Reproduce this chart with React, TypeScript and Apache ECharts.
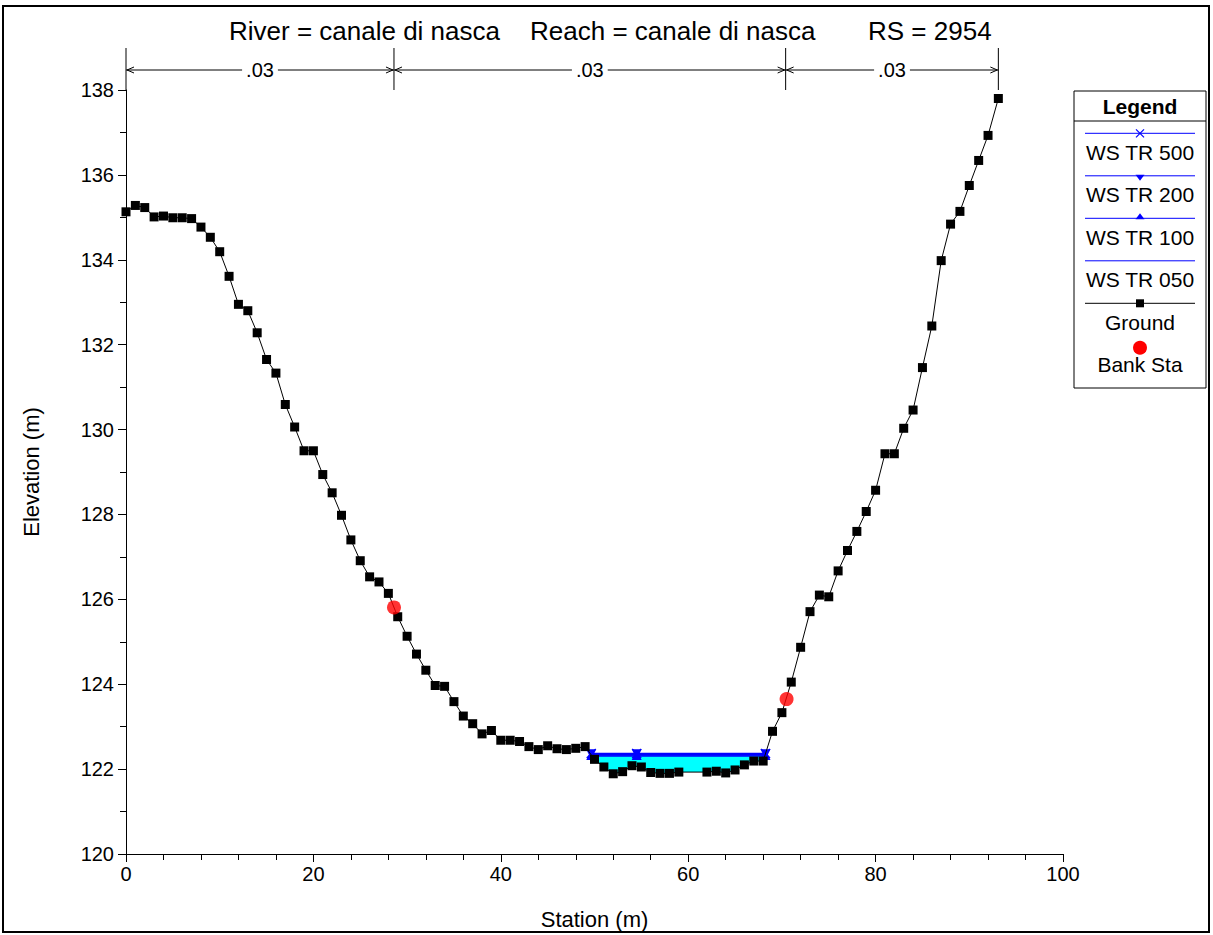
import React, { useEffect, useRef } from "react";
import * as echarts from "echarts";

const stations = [
  0, 1, 2, 3, 4, 5, 6, 7, 8, 9, 10, 11, 12, 13, 14, 15, 16, 17, 18, 19, 20,
  21, 22, 23, 24, 25, 26, 27, 28, 29, 30, 31, 32, 33, 34, 35, 36, 37, 38, 39, 40,
  41, 42, 43, 44, 45, 46, 47, 48, 49, 50, 51, 52, 53, 54, 55, 56, 57, 58, 59,
  62, 63, 64, 65, 66, 67, 68, 69, 70, 71, 72, 73, 74, 75, 76, 77, 78, 79, 80,
  81, 82, 83, 84, 85, 86, 87, 88, 89, 90, 91, 92, 93.1,
];
const elevations = [
  135.13, 135.28, 135.23, 135.01, 135.03, 134.99, 134.99, 134.97, 134.77, 134.53, 134.19,
  133.61, 132.95, 132.8, 132.28, 131.65, 131.33, 130.59, 130.06, 129.5, 129.5,
  128.94, 128.51, 127.98, 127.4, 126.91, 126.53, 126.41, 126.14, 125.59, 125.13,
  124.71, 124.33, 123.97, 123.95, 123.59, 123.25, 123.07, 122.83, 122.91, 122.68,
  122.68, 122.65, 122.53, 122.46, 122.55, 122.48, 122.46, 122.49, 122.53, 122.23,
  122.05, 121.89, 121.94, 122.08, 122.05, 121.92, 121.9, 121.9, 121.93,
  121.93, 121.95, 121.91, 121.98, 122.1, 122.19, 122.19, 122.89, 123.33, 124.05,
  124.87, 125.71, 126.1, 126.06, 126.67, 127.15, 127.6, 128.07, 128.57,
  129.43, 129.43, 130.03, 130.46, 131.46, 132.44, 133.98, 134.84, 135.14, 135.75,
  136.34, 136.93, 137.8,
];
const bankStations = [28.6, 70.5];
const bankElevations = [125.81, 123.65];

const wsStations = [49.65, 54.5, 68.25];
const wsNames = ["WS TR 500", "WS TR 200", "WS TR 100", "WS TR 050"];
const wsLevels = [122.37, 122.35, 122.33, 122.31];

const nStations = [0, 28.6, 70.4, 93.1];
const nValues = [".03", ".03", ".03"];

const titleParts = ["River = canale di nasca", "Reach = canale di nasca", "RS = 2954"];

const xTicks = [0, 20, 40, 60, 80, 100];
const yTicks = [120, 122, 124, 126, 128, 130, 132, 134, 136, 138];

const FONT = "'Liberation Sans', Arial, sans-serif";
const BLUE = "#0000ff";
const X_PATH =
  "path://M0,1 L1,0 L5,4 L9,0 L10,1 L6,5 L10,9 L9,10 L5,6 L1,10 L0,9 L4,5 Z";

export default function App() {
  const ref = useRef<HTMLDivElement>(null);

  useEffect(() => {
    document.body.style.margin = "0";
    if (!ref.current) return;
    const chart = echarts.init(ref.current, null, { renderer: "svg" });

    const ground = stations.map((s, i) => [s, elevations[i]]);

    const topWs = wsLevels[0];
    const wsLeft = wsStations[0];
    const wsRight = wsStations[wsStations.length - 1];
    const waterPts: number[][] = [[wsLeft, topWs]];
    stations.forEach((s, i) => {
      if (s > wsLeft && s < wsRight) waterPts.push([s, elevations[i]]);
    });
    waterPts.push([wsRight, topWs]);

    const wsSymbols = [X_PATH, "triangle", "triangle", "none"];
    const wsRot = [0, 180, 0, 0];

    const wsSeries = wsNames.map((name, k) => ({
      type: "line",
      name,
      data: wsStations.map((s) => [s, wsLevels[k]]),
      symbol: wsSymbols[k],
      symbolRotate: wsRot[k],
      symbolSize: 10,
      showSymbol: wsSymbols[k] !== "none",
      lineStyle: { color: BLUE, width: 1.5 },
      itemStyle: { color: BLUE },
      z: 3,
    }));

    // Legend graphic
    const lgLeft = 1074;
    const lgRight = 1206;
    const lgCx = (lgLeft + lgRight) / 2;
    const lgTop = 91;
    const lgSep = 121;
    const lgStep = 42.5;
    const lgLine0 = 133.3;
    const lgText0 = 152;
    const lgBottom = 388;
    const legendChildren: any[] = [
      {
        type: "rect",
        shape: { x: lgLeft, y: lgTop, width: lgRight - lgLeft, height: lgBottom - lgTop },
        style: { fill: "#fff", stroke: "#000", lineWidth: 1 },
      },
      {
        type: "line",
        shape: { x1: lgLeft, y1: lgSep, x2: lgRight, y2: lgSep },
        style: { stroke: "#000", lineWidth: 1 },
      },
      {
        type: "text",
        style: {
          text: "Legend",
          x: lgCx,
          y: (lgTop + lgSep) / 2,
          textAlign: "center",
          textVerticalAlign: "middle",
          font: `bold 21px ${FONT}`,
          fill: "#000",
        },
      },
    ];
    const legendItems = [...wsNames, "Ground", "Bank Sta"];
    legendItems.forEach((name, i) => {
      const ly = lgLine0 + i * lgStep;
      const ty = lgText0 + i * lgStep;
      if (i < 5) {
        legendChildren.push({
          type: "line",
          shape: { x1: lgLeft + 11, y1: ly, x2: lgRight - 11, y2: ly },
          style: { stroke: i < 4 ? BLUE : "#000", lineWidth: 1 },
        });
      }
      if (i === 0) {
        legendChildren.push({
          type: "polyline",
          shape: { points: [[lgCx - 4, ly - 4], [lgCx + 4, ly + 4]] },
          style: { stroke: BLUE, lineWidth: 1.2, fill: null },
        });
        legendChildren.push({
          type: "polyline",
          shape: { points: [[lgCx - 4, ly + 4], [lgCx + 4, ly - 4]] },
          style: { stroke: BLUE, lineWidth: 1.2, fill: null },
        });
      } else if (i === 1) {
        legendChildren.push({
          type: "polygon",
          shape: { points: [[lgCx - 4.5, ly - 1], [lgCx + 4.5, ly - 1], [lgCx, ly + 5]] },
          style: { fill: BLUE },
        });
      } else if (i === 2) {
        legendChildren.push({
          type: "polygon",
          shape: { points: [[lgCx - 4.5, ly + 1], [lgCx + 4.5, ly + 1], [lgCx, ly - 5]] },
          style: { fill: BLUE },
        });
      } else if (i === 4) {
        legendChildren.push({
          type: "rect",
          shape: { x: lgCx - 4, y: ly - 4, width: 8, height: 8 },
          style: { fill: "#000" },
        });
      } else if (i === 5) {
        legendChildren.push({
          type: "circle",
          shape: { cx: lgCx, cy: ly + 2, r: 7 },
          style: { fill: "#ff0000" },
        });
      }
      legendChildren.push({
        type: "text",
        style: {
          text: name,
          x: lgCx,
          y: ty,
          textAlign: "center",
          textVerticalAlign: "middle",
          font: `21px ${FONT}`,
          fill: "#000",
        },
      });
    });

    const titleX = [229, 530, 868];

    const option: any = {
      animation: false,
      backgroundColor: "#fff",
      textStyle: { fontFamily: FONT },
      grid: { left: 126, right: 150, top: 90, bottom: 78, containLabel: false },
      xAxis: {
        type: "value",
        min: xTicks[0],
        max: xTicks[xTicks.length - 1],
        interval: 20,
        name: "Station (m)",
        nameLocation: "middle",
        nameGap: 54,
        nameTextStyle: { color: "#000", fontSize: 22, fontFamily: FONT },
        axisLine: { show: true, onZero: false, lineStyle: { color: "#000", width: 1 } },
        axisTick: { show: true, length: 8, lineStyle: { color: "#000" } },
        minorTick: { show: true, splitNumber: 5, length: 6, lineStyle: { color: "#000" } },
        axisLabel: { color: "#000", fontSize: 20, fontFamily: FONT, margin: 10 },
        splitLine: { show: false },
      },
      yAxis: {
        type: "value",
        min: yTicks[0],
        max: yTicks[yTicks.length - 1],
        interval: 2,
        name: "Elevation (m)",
        nameLocation: "middle",
        nameRotate: 90,
        nameGap: 84,
        nameTextStyle: { color: "#000", fontSize: 22, fontFamily: FONT },
        axisLine: { show: true, onZero: false, lineStyle: { color: "#000", width: 1 } },
        axisTick: { show: true, length: 8, lineStyle: { color: "#000" } },
        minorTick: { show: true, splitNumber: 2, length: 6, lineStyle: { color: "#000" } },
        axisLabel: { color: "#000", fontSize: 20, fontFamily: FONT, margin: 12 },
        splitLine: { show: false },
      },
      graphic: [
        {
          type: "rect",
          shape: { x: 3, y: 6, width: 1206, height: 926 },
          style: { fill: null, stroke: "#000", lineWidth: 2 },
          z: -10,
          silent: true,
        },
        ...titleParts.map((t, i) => ({
          type: "text",
          style: {
            text: t,
            x: titleX[i],
            y: 31,
            textAlign: "left",
            textVerticalAlign: "middle",
            font: `26px ${FONT}`,
            fill: "#000",
          },
        })),
        { type: "group", children: legendChildren, z: 100 },
      ],
      series: [
        {
          type: "custom",
          name: "water",
          clip: false,
          silent: true,
          data: [0],
          z: 1,
          renderItem: (_p: any, api: any) => ({
            type: "polygon",
            shape: { points: waterPts.map((p) => api.coord(p)) },
            style: { fill: "#00ffff", stroke: null },
          }),
        },
        ...wsSeries,
        {
          type: "line",
          name: "Ground",
          data: ground,
          symbol: "rect",
          symbolSize: 9,
          lineStyle: { color: "#000", width: 1 },
          itemStyle: { color: "#000" },
          z: 4,
        },
        {
          type: "scatter",
          name: "Bank Sta",
          data: bankStations.map((s, i) => [s, bankElevations[i]]),
          symbol: "circle",
          symbolSize: 14,
          itemStyle: { color: "#ff0000" },
          z: 5,
        },
        {
          type: "custom",
          name: "manning",
          clip: false,
          silent: true,
          data: [0],
          z: 6,
          renderItem: (_p: any, api: any) => {
            const yTop = api.coord([0, yTicks[yTicks.length - 1]])[1];
            const lineTop = yTop - 42;
            const arrowY = yTop - 20;
            const xs = nStations.map((s) => api.coord([s, yTicks[yTicks.length - 1]])[0]);
            const children: any[] = [];
            xs.forEach((x) => {
              children.push({
                type: "line",
                shape: { x1: x, y1: lineTop, x2: x, y2: yTop },
                style: { stroke: "#000", lineWidth: 1 },
              });
            });
            for (let i = 0; i < xs.length - 1; i++) {
              const a = xs[i];
              const b = xs[i + 1];
              children.push({
                type: "line",
                shape: { x1: a, y1: arrowY, x2: b, y2: arrowY },
                style: { stroke: "#000", lineWidth: 1 },
              });
              children.push({
                type: "polyline",
                shape: { points: [[a + 8, arrowY - 3], [a + 1, arrowY], [a + 8, arrowY + 3]] },
                style: { stroke: "#000", lineWidth: 1, fill: null },
              });
              children.push({
                type: "polyline",
                shape: { points: [[b - 8, arrowY - 3], [b - 1, arrowY], [b - 8, arrowY + 3]] },
                style: { stroke: "#000", lineWidth: 1, fill: null },
              });
              children.push({
                type: "text",
                style: {
                  text: nValues[i],
                  x: (a + b) / 2,
                  y: arrowY,
                  textAlign: "center",
                  textVerticalAlign: "middle",
                  font: `20px ${FONT}`,
                  fill: "#000",
                  backgroundColor: "#fff",
                  padding: [0, 4],
                },
              });
            }
            return { type: "group", children };
          },
        },
      ],
    };

    chart.setOption(option);
    return () => chart.dispose();
  }, []);

  return <div ref={ref} style={{ width: 1213, height: 935 }} />;
}
